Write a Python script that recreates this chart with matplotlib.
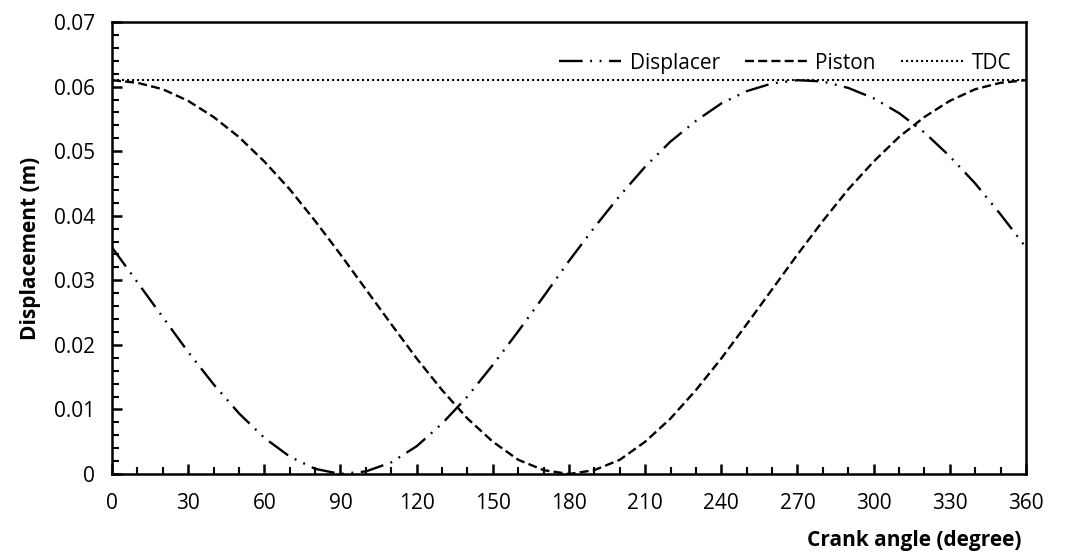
import matplotlib
matplotlib.use("Agg")
import matplotlib.pyplot as plt
from matplotlib.ticker import MultipleLocator, FuncFormatter

plt.rcParams['font.family'] = ['Open Sans', 'DejaVu Sans']

crank_angle = [0, 10, 20, 30, 40, 50, 60, 70, 80, 90, 100, 110, 120, 130, 140, 150, 160, 170, 180,
               190, 200, 210, 220, 230, 240, 250, 260, 270, 280, 290, 300, 310, 320, 330, 340, 350, 360]

displacer = [0.0351, 0.0297, 0.0243, 0.0189, 0.0139, 0.0094, 0.0056, 0.0027, 0.0008, 0.0000,
             0.0004, 0.0018, 0.0043, 0.0078, 0.0120, 0.0169, 0.0221, 0.0275, 0.0330, 0.0382,
             0.0431, 0.0476, 0.0515, 0.0547, 0.0574, 0.0593, 0.0605, 0.0610, 0.0608, 0.0598,
             0.0582, 0.0559, 0.0529, 0.0492, 0.0450, 0.0402, 0.0351]

piston = [0.0610, 0.0606, 0.0596, 0.0578, 0.0553, 0.0522, 0.0484, 0.0441, 0.0392, 0.0340,
          0.0286, 0.0232, 0.0179, 0.0130, 0.0086, 0.0050, 0.0022, 0.0006, 0.0000,
          0.0006, 0.0022, 0.0050, 0.0086, 0.0130, 0.0179, 0.0232, 0.0286, 0.0340,
          0.0392, 0.0441, 0.0484, 0.0522, 0.0553, 0.0578, 0.0596, 0.0606, 0.0610]

tdc_x = [0, 360]
tdc = [0.061, 0.061]

fig = plt.figure(figsize=(10.8, 5.52), dpi=100)
ax = fig.add_axes([0.1037, 0.1413, 0.8463, 0.8187])

ax.plot(crank_angle, displacer, color='black', lw=1.7,
        linestyle=(0, (10, 3.2, 0.8, 3.2, 0.8, 3.2)), label='Displacer')
ax.plot(crank_angle, piston, color='black', lw=1.7,
        linestyle=(0, (3.8, 1.8)), label='Piston')
ax.plot(tdc_x, tdc, color='black', lw=1.5,
        linestyle=(0, (1, 1.4)), label='TDC')

ax.set_xlim(0, 360)
ax.set_ylim(0, 0.07)
ax.xaxis.set_major_locator(MultipleLocator(30))
ax.xaxis.set_minor_locator(MultipleLocator(10))
ax.yaxis.set_major_locator(MultipleLocator(0.01))
ax.yaxis.set_minor_locator(MultipleLocator(0.002))
ax.yaxis.set_major_formatter(FuncFormatter(lambda v, p: '0' if abs(v) < 1e-9 else f'{v:.2f}'))

ax.tick_params(which='both', direction='in', top=False, right=False, labelsize=15, colors='black')
ax.tick_params(which='major', length=7, width=1.8)
ax.tick_params(axis='x', which='major', pad=14)
ax.tick_params(axis='y', which='major', pad=12)
ax.tick_params(which='minor', length=5, width=1.5)
for s in ax.spines.values():
    s.set_linewidth(1.8)

ax.set_xlabel('Crank angle (degree)', fontsize=15, fontweight='bold', ha='right')
ax.xaxis.set_label_coords(0.995, -0.125)
ax.set_ylabel('Displacement (m)', fontsize=15, fontweight='bold')
ax.yaxis.set_label_coords(-0.078, 0.5)

leg = ax.legend(ncol=3, frameon=False, loc='center right', bbox_to_anchor=(1.0, 0.909),
                fontsize=15, handlelength=3.0, columnspacing=1.2, handletextpad=0.4,
                borderaxespad=0.3)

fig.savefig('out.png', dpi=100)
